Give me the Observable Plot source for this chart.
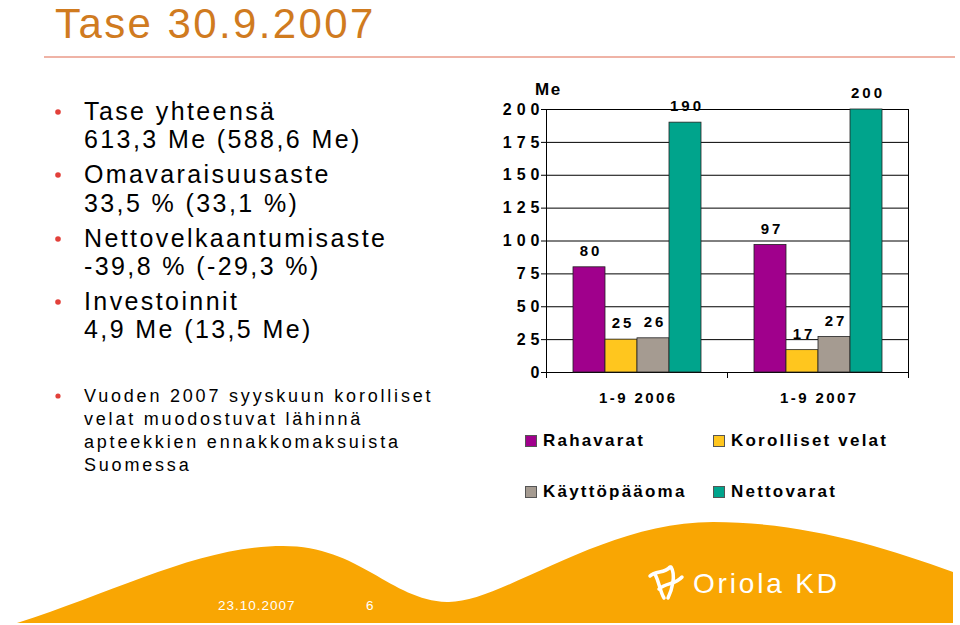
<!DOCTYPE html>
<html>
<head>
<meta charset="utf-8">
<script src="https://cdn.jsdelivr.net/npm/d3@7"></script>
<script src="https://cdn.jsdelivr.net/npm/@observablehq/plot@0.6"></script>
<style>
  html, body { margin: 0; padding: 0; background: #fff; }
  #slide { position: relative; width: 960px; height: 625px; overflow: hidden; font-family: "Liberation Sans", Arial, sans-serif; }
  #bg { position: absolute; left: 0; top: 0; }
  #chart { position: absolute; left: 490px; top: 75px; }
  #chart svg { overflow: visible; }
  #chart g[aria-label^="y-axis tick label"] text { letter-spacing: 5px; }
  #chart g[aria-label^="fx-axis tick label"] text { letter-spacing: 2.4px; }
  #chart g[aria-label="text"] text { letter-spacing: 3px; }
  #unit { position: absolute; left: 535px; top: 81px; font-size: 17px; font-weight: bold; letter-spacing: 1.5px; line-height: 18px; }
  .leg { position: absolute; display: flex; align-items: center; font-size: 17px; font-weight: bold; letter-spacing: 2.2px; line-height: 18px; white-space: nowrap; }
  .sw { width: 10px; height: 10px; border: 1px solid #555; margin-right: 6px; }
</style>
</head>
<body>
<div id="slide">
  <svg id="bg" width="960" height="625" xmlns="http://www.w3.org/2000/svg">
    <text x="55" y="38" font-size="42" fill="#D07B1F" letter-spacing="2.4">Tase 30.9.2007</text>
    <line x1="44" x2="955" y1="57" y2="57" stroke="#EA9A88" stroke-width="1.5"/>
    <g fill="#E2403A">
      <circle cx="58" cy="112" r="2.8"/>
      <circle cx="58" cy="175" r="2.8"/>
      <circle cx="58" cy="239" r="2.8"/>
      <circle cx="58" cy="302" r="2.8"/>
      <circle cx="58" cy="396" r="2.6"/>
    </g>
    <g font-size="25" fill="#000" letter-spacing="2.4">
      <text x="84" y="120">Tase yhteensä</text>
      <text x="84" y="148">613,3 Me (588,6 Me)</text>
      <text x="84" y="183">Omavaraisuusaste</text>
      <text x="84" y="212">33,5 % (33,1 %)</text>
      <text x="84" y="247">Nettovelkaantumisaste</text>
      <text x="84" y="275">-39,8 % (-29,3 %)</text>
      <text x="84" y="310">Investoinnit</text>
      <text x="84" y="338">4,9 Me (13,5 Me)</text>
    </g>
    <g font-size="18" fill="#000" letter-spacing="2.8">
      <text x="84" y="402">Vuoden 2007 syyskuun korolliset</text>
      <text x="84" y="425">velat muodostuvat lähinnä</text>
      <text x="84" y="448">apteekkien ennakkomaksuista</text>
      <text x="84" y="471">Suomessa</text>
    </g>
    <path d="M17,623 C120,590 200,546 283,546 C360,546 390,600 447,602 C500,604 600,522 713,522 C800,522 880,545 953,572 L953,623 Z" fill="#F9A603"/>
    <text x="218" y="610" font-size="13.5" fill="#fff" letter-spacing="1">23.10.2007</text>
    <text x="366" y="610" font-size="13.5" fill="#fff">6</text>
    <g fill="none" stroke="#fff" stroke-width="3.5" stroke-linecap="round" stroke-linejoin="round">
      <path d="M650,576 C656,570 664,574 670,567"/>
      <path d="M659,589 C667,582 675,585 682,577"/>
      <path d="M655,574 C660,584 660,592 664,598"/>
      <path d="M671,567 C676,575 672,590 668,598"/>
    </g>
    <text x="693" y="593" font-size="28" fill="#fff" textLength="144" lengthAdjust="spacing">Oriola KD</text>
  </svg>
  <div id="chart"></div>
  <div id="unit">Me</div>
  <div id="legend"></div>
</div>
<script>
// ---- data ----
const groups = ["1-9 2006", "1-9 2007"];
const series = ["Rahavarat", "Korolliset velat", "Käyttöpääoma", "Nettovarat"];
const values2006 = [80, 25, 26, 190];
const values2007 = [97, 17, 27, 200];
const seriesColors = ["#A0008C", "#FFC61E", "#A59B91", "#00A48C"];
const yTicks = [0, 25, 50, 75, 100, 125, 150, 175, 200];

const valuesByGroup = [values2006, values2007];
const data = groups.flatMap((g, i) =>
  series.map((s, j) => ({group: g, series: s, value: valuesByGroup[i][j]}))
);

const chart = Plot.plot({
  width: 430,
  height: 340,
  marginLeft: 55,
  marginRight: 12,
  marginTop: 34,
  marginBottom: 43,
  style: {fontFamily: "'Liberation Sans', Arial, sans-serif", background: "transparent", color: "#000"},
  fx: {domain: groups, padding: 0, label: null},
  x: {domain: series, paddingInner: 0, paddingOuter: 0.75, axis: null},
  y: {domain: [0, 200], label: null},
  color: {domain: series, range: seriesColors},
  marks: [
    Plot.ruleY(yTicks, {stroke: "#000", strokeWidth: 1}),
    Plot.barY(data, {fx: "group", x: "series", y: "value", fill: "series", stroke: "#222", strokeWidth: 0.8}),
    Plot.text(data, {fx: "group", x: "series", y: "value", text: d => String(d.value), dy: -16, dx: 1.5, fontSize: 15, fontWeight: "bold", fill: "#000"}),
    Plot.frame({anchor: "left", insetTop: 263, insetBottom: -5, stroke: "#000"}),
    Plot.frame({anchor: "left", facet: "super", insetBottom: -5, stroke: "#000"}),
    Plot.frame({anchor: "right", facet: "super", insetBottom: -5, stroke: "#000"}),
    Plot.axisY({ticks: yTicks, tickSize: 5, tickPadding: -3, fontSize: 16, fontWeight: "bold", label: null, tickFormat: d => String(d)}),
    Plot.axisFx({anchor: "bottom", tickSize: 0, tickPadding: 20, fontSize: 15, fontWeight: "bold", label: null, dx: 1.2})
  ]
});
document.getElementById("chart").appendChild(chart);

// ---- legend ----
const legendPos = [
  {left: 525, top: 432}, {left: 713, top: 432},
  {left: 525, top: 483}, {left: 713, top: 483}
];
const legend = document.getElementById("legend");
series.forEach((s, i) => {
  const item = document.createElement("div");
  item.className = "leg";
  item.style.left = legendPos[i].left + "px";
  item.style.top = legendPos[i].top + "px";
  const sw = document.createElement("div");
  sw.className = "sw";
  sw.style.background = seriesColors[i];
  const label = document.createElement("span");
  label.textContent = s;
  item.appendChild(sw);
  item.appendChild(label);
  legend.appendChild(item);
});
</script>
</body>
</html>
